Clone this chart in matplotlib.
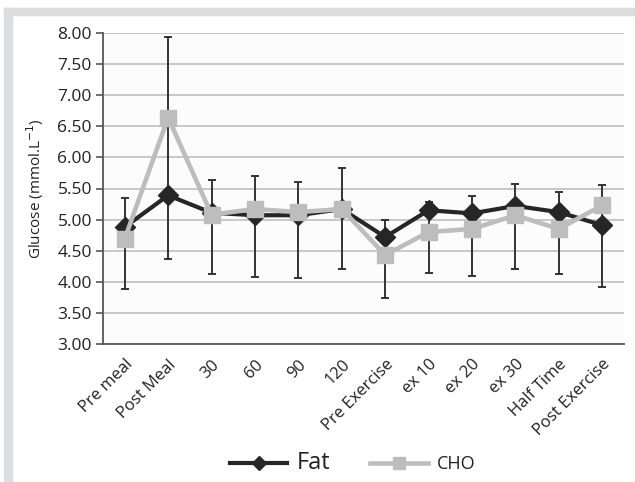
import matplotlib
matplotlib.use('Agg')
import matplotlib.pyplot as plt
import numpy as np
from matplotlib.patches import Rectangle

plt.rcParams['font.family'] = ['Open Sans', 'DejaVu Sans']

categories = ['Pre meal', 'Post Meal', '30', '60', '90', '120', 'Pre Exercise',
              'ex 10', 'ex 20', 'ex 30', 'Half Time', 'Post Exercise']
fat = [4.88, 5.39, 5.11, 5.07, 5.07, 5.17, 4.72, 5.15, 5.10, 5.22, 5.12, 4.91]
cho = [4.69, 6.64, 5.08, 5.17, 5.12, 5.17, 4.43, 4.80, 4.85, 5.07, 4.85, 5.23]
# ends of the error bars as drawn (top cap, bottom cap)
err_top = [5.34, 7.93, 5.63, 5.70, 5.60, 5.83, 5.00, 5.29, 5.38, 5.57, 5.45, 5.56]
err_bottom = [3.88, 4.37, 4.13, 4.08, 4.06, 4.21, 3.74, 4.14, 4.10, 4.21, 4.12, 3.92]

fig = plt.figure(figsize=(6.35, 4.82), dpi=100)

# grey frame on the top and left edges
fig.patches.append(Rectangle((4 / 635, 0), 8 / 635, (482 - 8) / 482,
                             transform=fig.transFigure, color='#dcdddf', zorder=0))
fig.patches.append(Rectangle((4 / 635, 1 - 15 / 482), 1, 7 / 482,
                             transform=fig.transFigure, color='#dcdddf', zorder=0))

ax = fig.add_axes([103 / 635, 1 - 344 / 482, 521 / 635, 311 / 482])
ax.set_facecolor('#fcfcfc')

x = np.arange(len(categories))
fat_a = np.array(fat)
yerr = [fat_a - np.array(err_bottom), np.array(err_top) - fat_a]
ax.errorbar(x, fat, yerr=yerr, fmt='none', ecolor='#333333', elinewidth=1.4,
            capsize=3, capthick=1.4, zorder=2)

ax.plot(x, fat, '-D', color='#262626', lw=3.0, ms=10, label='Fat', zorder=3)
ax.plot(x, cho, '-s', color='#bdbdbd', lw=3.3, ms=12, label='CHO', zorder=4)

ax.set_xlim(-0.5, len(categories) - 0.5)
ax.set_ylim(3, 8)
ax.set_yticks(np.arange(3, 8.01, 0.5))
ax.set_yticklabels(['%.2f' % v for v in np.arange(3, 8.01, 0.5)], fontsize=12.5,
                   color='#222222')
ax.set_xticks(x)
ax.set_xticklabels(categories, rotation=45, ha='right', rotation_mode='anchor',
                   fontsize=12, color='#222222')
ax.tick_params(axis='x', length=0, pad=9)
ax.tick_params(axis='y', length=5, color='#555555', width=1.2, pad=3)
ax.yaxis.grid(True, color='#c4c4c4', lw=1.3)
ax.set_axisbelow(True)
for side in ['top', 'right']:
    ax.spines[side].set_visible(False)
for side in ['left', 'bottom']:
    ax.spines[side].set_color('#555555')
    ax.spines[side].set_linewidth(1.3)

ax.set_ylabel('Glucose (mmol.L$^{-1}$)', fontsize=11, color='#222222', labelpad=8)

leg = fig.legend(loc='center', bbox_to_anchor=(0.555, 1 - 463 / 482), ncol=2,
                 frameon=False, handlelength=3.2, columnspacing=2.2,
                 handletextpad=0.5, fontsize=13, markerscale=0.75)
leg.get_texts()[0].set_fontsize(17)
for t in leg.get_texts():
    t.set_color('#222222')

fig.savefig('out.png', dpi=100, facecolor='white')
